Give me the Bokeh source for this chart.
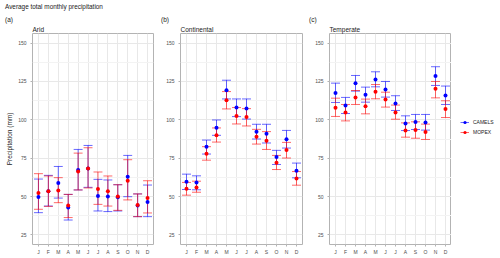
from bokeh.plotting import figure
from bokeh.models import (ColumnDataSource, FixedTicker, Range1d,
                          Legend, LegendItem, Div)
from bokeh.layouts import column, row
from bokeh.embed import file_html
from bokeh.resources import INLINE

# ---------------- data ----------------
months = ["J", "F", "M", "A", "M", "J", "J", "A", "S", "O", "N", "D"]
regions = ["Arid", "Continental", "Temperate"]
tags = ["(a)", "(b)", "(c)"]
series_names = ["CAMELS", "MOPEX"]
y_ticks = [25, 50, 75, 100, 125, 150]
y_minor = [37.5, 62.5, 87.5, 112.5, 137.5]

arid_camels_mean = [49.7, 53.4, 58.8, 42.8, 67.3, 68.3, 50.4, 50.1, 49.5, 62.9, 44.1, 46.4]
arid_camels_lo = [39.5, 43.8, 49.0, 34.7, 54.3, 56.0, 40.6, 40.2, 40.6, 49.9, 36.9, 36.9]
arid_camels_hi = [61.4, 63.8, 69.6, 51.4, 80.7, 83.3, 61.2, 60.8, 57.7, 76.8, 51.7, 57.5]
arid_mopex_mean = [52.3, 53.4, 54.0, 44.1, 66.4, 68.3, 54.9, 53.4, 50.1, 60.3, 44.5, 49.1]
arid_mopex_lo = [41.7, 43.6, 46.0, 36.3, 54.3, 55.6, 44.9, 43.8, 41.0, 47.8, 36.9, 39.3]
arid_mopex_hi = [64.9, 63.4, 62.3, 51.4, 78.3, 81.8, 66.0, 63.4, 57.7, 74.0, 51.7, 60.3]

cont_camels_mean = [59.6, 59.2, 82.5, 94.9, 119.3, 108.0, 107.3, 92.3, 91.0, 75.7, 87.3, 66.8]
cont_camels_lo = [54.6, 54.4, 77.7, 89.9, 113.6, 102.1, 100.5, 87.5, 84.9, 70.9, 81.6, 62.2]
cont_camels_hi = [64.6, 63.5, 86.8, 99.9, 125.8, 113.6, 113.6, 97.1, 97.1, 80.1, 93.1, 71.8]
cont_mopex_mean = [55.0, 55.9, 77.9, 89.9, 112.7, 102.5, 101.9, 89.0, 86.4, 72.0, 80.3, 61.8]
cont_mopex_lo = [50.9, 52.8, 73.7, 85.5, 107.1, 97.3, 96.0, 84.2, 80.7, 67.6, 75.1, 57.4]
cont_mopex_hi = [59.2, 60.0, 82.5, 94.7, 118.4, 108.0, 107.3, 93.8, 92.3, 76.8, 85.3, 66.3]

temp_camels_mean = [117.4, 109.3, 123.9, 116.3, 126.3, 119.8, 110.7, 97.6, 98.5, 98.3, 128.5, 115.9]
temp_camels_lo = [111.3, 104.1, 118.7, 111.5, 121.5, 114.8, 106.1, 93.0, 93.7, 93.3, 122.4, 110.0]
temp_camels_hi = [123.9, 114.6, 128.9, 121.3, 131.3, 125.0, 115.7, 102.6, 103.5, 103.5, 134.6, 122.0]
temp_mopex_mean = [107.8, 104.8, 114.6, 108.9, 118.3, 113.3, 104.8, 93.0, 93.3, 92.0, 120.2, 107.0]
temp_mopex_lo = [102.2, 99.3, 110.0, 103.9, 113.7, 108.3, 100.4, 88.7, 88.0, 87.2, 114.3, 101.5]
temp_mopex_hi = [114.1, 110.0, 119.1, 113.5, 123.0, 118.0, 109.6, 98.0, 98.7, 97.2, 125.0, 112.4]

panel_data = [
    [(arid_camels_mean, arid_camels_lo, arid_camels_hi), (arid_mopex_mean, arid_mopex_lo, arid_mopex_hi)],
    [(cont_camels_mean, cont_camels_lo, cont_camels_hi), (cont_mopex_mean, cont_mopex_lo, cont_mopex_hi)],
    [(temp_camels_mean, temp_camels_lo, temp_camels_hi), (temp_mopex_mean, temp_mopex_lo, temp_mopex_hi)],
]

# ---------------- style ----------------
FONT = "Liberation Sans"
COLORS = ["#0000FF", "#FF0000"]
x_pos = list(range(1, len(months) + 1))
CAP = 0.45
FIG_H = 234
EB_ALPHA = 0.7
EB_WIDTH = 0.85
PT_SIZE = 4
Y_RANGE = (18.75, 156.25)


def make_panel(idx, width, left, right):
    p = figure(width=width, height=FIG_H,
               x_range=Range1d(0.4, len(months) + 0.6),
               y_range=Range1d(*Y_RANGE),
               output_backend="svg", toolbar_location=None,
               min_border_left=left, min_border_right=right,
               min_border_top=0, min_border_bottom=0,
               background_fill_color="white", border_fill_color="white")
    p.title.text = regions[idx]
    p.title.text_font = FONT
    p.title.text_font_size = "6.5px"
    p.title.text_font_style = "normal"
    p.title.text_color = "#1a1a1a"
    p.title.standoff = 1
    p.title.align = "left"

    p.outline_line_color = "#b3b3b3"
    p.outline_line_width = 1

    xt = FixedTicker(ticks=x_pos)
    yt = FixedTicker(ticks=y_ticks, minor_ticks=y_minor)
    p.xaxis.ticker = xt
    p.yaxis.ticker = yt
    p.xgrid.ticker = xt
    p.ygrid.ticker = yt
    p.xaxis.major_label_overrides = {i: m for i, m in zip(x_pos, months)}
    for ax in (p.xaxis, p.yaxis):
        ax.axis_line_color = None
        ax.major_tick_line_color = "#b3b3b3"
        ax.major_tick_out = 2
        ax.major_tick_in = 0
        ax.minor_tick_line_color = None
        ax.major_label_text_font = FONT
        ax.major_label_text_font_size = "5px"
        ax.major_label_text_color = "#4d4d4d"
        ax.major_label_standoff = 2
    p.xgrid.grid_line_color = "#e8e8e8"
    p.ygrid.grid_line_color = "#e8e8e8"
    p.ygrid.minor_grid_line_color = "#f3f3f3"

    if idx == 0:
        p.yaxis.axis_label = "Precipitation (mm)"
        p.yaxis.axis_label_text_font = FONT
        p.yaxis.axis_label_text_font_size = "6.5px"
        p.yaxis.axis_label_text_font_style = "normal"
        p.yaxis.axis_label_text_color = "#1a1a1a"
        p.yaxis.axis_label_standoff = 2

    sources = []
    for s, (mean, lo, hi) in enumerate(panel_data[idx]):
        src = ColumnDataSource(dict(
            x=x_pos, mean=mean, lo=lo, hi=hi,
            xl=[x - CAP for x in x_pos], xr=[x + CAP for x in x_pos]))
        c = COLORS[s]
        p.segment(x0="x", y0="lo", x1="x", y1="hi", source=src,
                  line_color=c, line_alpha=EB_ALPHA, line_width=EB_WIDTH)
        p.segment(x0="xl", y0="hi", x1="xr", y1="hi", source=src,
                  line_color=c, line_alpha=EB_ALPHA, line_width=EB_WIDTH)
        p.segment(x0="xl", y0="lo", x1="xr", y1="lo", source=src,
                  line_color=c, line_alpha=EB_ALPHA, line_width=EB_WIDTH)
        sources.append(src)
    for s, src in enumerate(sources):
        c = COLORS[s]
        p.scatter("x", "mean", source=src, marker="circle", size=PT_SIZE,
                  fill_color=c, line_color=None)
    return p, sources


pa, _ = make_panel(0, 162, 32, 9)
pb, _ = make_panel(1, 149, 18, 9)
pc, src_c = make_panel(2, 140, 18, 0)

# legend-only figure to the right of panel (c); its renderers reuse panel (c)'s data,
# which lies outside this small figure's x range, so only the legend keys show.
pl = figure(width=49, height=FIG_H, x_range=Range1d(-10, -9), y_range=Range1d(*Y_RANGE),
            output_backend="svg", toolbar_location=None,
            min_border_left=0, min_border_right=0, min_border_top=0, min_border_bottom=0,
            background_fill_color="white", border_fill_color="white")
pl.axis.visible = False
pl.grid.visible = False
pl.outline_line_color = None
items = []
for s, src in enumerate(src_c):
    c = COLORS[s]
    st = pl.segment(x0="xl", y0="mean", x1="xr", y1="mean", source=src,
                    line_color=c, line_alpha=EB_ALPHA, line_width=EB_WIDTH)
    pt = pl.scatter("x", "mean", source=src, marker="circle", size=PT_SIZE,
                    fill_color=c, line_color=None)
    items.append(LegendItem(label=series_names[s], renderers=[st, pt]))
leg = Legend(items=items, location=(9, 108),
             label_text_font=FONT, label_text_font_size="5px",
             label_text_color="#1a1a1a",
             glyph_width=9, glyph_height=8, label_height=8,
             label_standoff=4, spacing=2, padding=0, margin=0,
             border_line_color=None, background_fill_alpha=0)
pl.add_layout(leg)

header_html = (
    '<div style="position:relative;width:500px;height:23px;'
    'font-family:\'Liberation Sans\';color:#1a1a1a;">'
    '<span style="position:absolute;left:5px;top:3px;font-size:6.4px;line-height:8px;white-space:nowrap;">'
    'Average total monthly precipitation</span>'
    '<span style="position:absolute;left:5px;top:16px;font-size:6.5px;line-height:8px;">' + tags[0] + '</span>'
    '<span style="position:absolute;left:161px;top:16px;font-size:6.5px;line-height:8px;">' + tags[1] + '</span>'
    '<span style="position:absolute;left:309px;top:16px;font-size:6.5px;line-height:8px;">' + tags[2] + '</span>'
    '</div>'
)
header = Div(text=header_html, width=500, height=23, margin=(0, 0, 0, 0))

layout = column(header, row(pa, pb, pc, pl, spacing=0), spacing=0)

open("out.html", "w").write(file_html(layout, INLINE))
